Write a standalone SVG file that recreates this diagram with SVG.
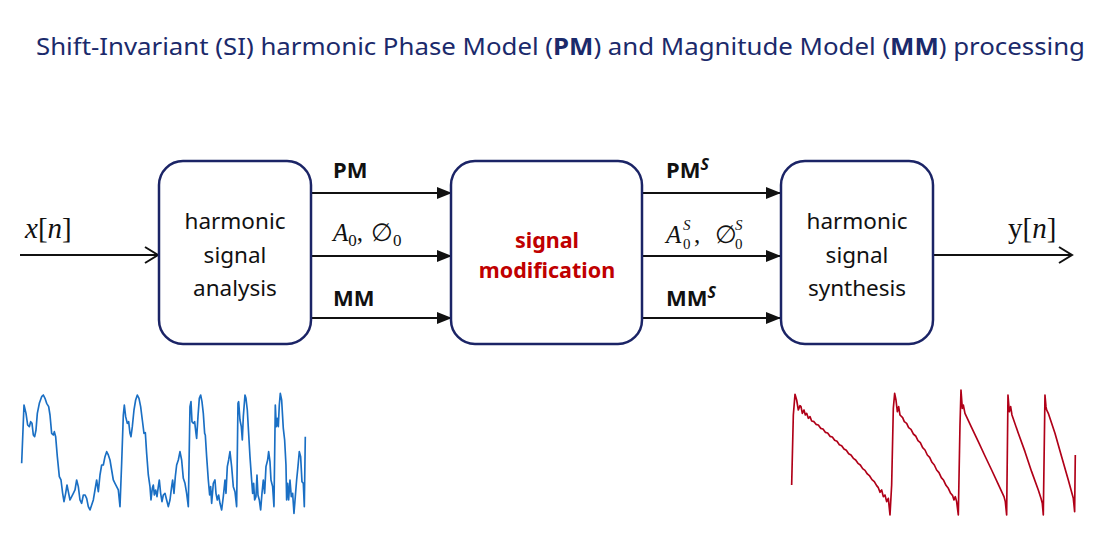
<svg xmlns="http://www.w3.org/2000/svg" width="1100" height="560" viewBox="0 0 1100 560">
<style>
.box{fill:#fff;stroke:#1b2466;stroke-width:2.5}
.bt{font-family:"Noto Sans","Open Sans",sans-serif;font-size:22.5px;fill:#111;text-anchor:middle}
.red{font-family:"Noto Sans","Open Sans",sans-serif;font-size:21.5px;font-weight:bold;fill:#c00000;text-anchor:middle}
.lab{font-family:"Noto Sans","Open Sans",sans-serif;font-size:22px;font-weight:bold;fill:#111}
.math{font-family:"Liberation Serif","DejaVu Serif",serif;fill:#111}
.it{font-style:italic}
.ln{stroke:#111;stroke-width:2;fill:none}
.title{font-family:"Noto Sans","Open Sans",sans-serif;font-size:23px;fill:#1b2a6b}
</style>
<defs>
<marker id="ah" markerWidth="15" markerHeight="12" refX="15" refY="6" orient="auto" markerUnits="userSpaceOnUse">
<path d="M0,0 L15,6 L0,12 Z" fill="#111"/>
</marker>
</defs>
<text class="title" x="36" y="55" textLength="1049" lengthAdjust="spacingAndGlyphs">Shift-Invariant (SI) harmonic Phase Model (<tspan font-weight="bold">PM</tspan>) and Magnitude Model (<tspan font-weight="bold">MM</tspan>) processing</text>

<g id="connectors">
<line class="ln" x1="20" y1="255" x2="158" y2="255"/>
<polyline class="ln" points="145,247 158,255 145,263"/>
<line class="ln" x1="311" y1="193" x2="452" y2="193" marker-end="url(#ah)"/>
<line class="ln" x1="311" y1="256" x2="452" y2="256" marker-end="url(#ah)"/>
<line class="ln" x1="311" y1="318" x2="452" y2="318" marker-end="url(#ah)"/>
<line class="ln" x1="642" y1="193" x2="781" y2="193" marker-end="url(#ah)"/>
<line class="ln" x1="642" y1="256" x2="781" y2="256" marker-end="url(#ah)"/>
<line class="ln" x1="642" y1="318" x2="781" y2="318" marker-end="url(#ah)"/>
<line class="ln" x1="933" y1="255" x2="1072" y2="255"/>
<polyline class="ln" points="1059,247 1072,255 1059,263"/>
</g>

<g id="analysis">
<rect class="box" x="159" y="161" width="152" height="183" rx="24"/>
<text class="bt" x="235" y="229">harmonic</text>
<text class="bt" x="235" y="263">signal</text>
<text class="bt" x="235" y="296">analysis</text>
</g>
<g id="modification">
<rect class="box" x="451" y="161" width="191" height="183" rx="24"/>
<text class="red" x="547" y="248">signal</text>
<text class="red" x="547" y="278">modification</text>
</g>
<g id="synthesis">
<rect class="box" x="781" y="161" width="152" height="183" rx="24"/>
<text class="bt" x="857" y="229">harmonic</text>
<text class="bt" x="857" y="263">signal</text>
<text class="bt" x="857" y="296">synthesis</text>
</g>

<g id="labels">
<text class="lab" x="333" y="178">PM</text>
<text class="lab" x="333" y="306">MM</text>
<text class="math" style="font-size:25px" x="333" y="241"><tspan class="it">A</tspan><tspan style="font-size:17px" dy="5">0</tspan><tspan dy="-5">,</tspan></text>
<text class="math" style="font-size:25px" x="371" y="241">∅<tspan style="font-size:17px" dy="5">0</tspan></text>
<text class="lab" x="666" y="178">PM<tspan style="font-size:16px;font-style:italic" dy="-8">S</tspan></text>
<text class="lab" x="666" y="306">MM<tspan style="font-size:16px;font-style:italic" dy="-8">S</tspan></text>
<text class="math it" style="font-size:25px" x="666" y="243">A</text>
<text class="math it" style="font-size:15px" x="683" y="230">S</text>
<text class="math" style="font-size:15px" x="683" y="249">0</text>
<text class="math" style="font-size:25px" x="694" y="243">,</text>
<text class="math" style="font-size:25px" x="715" y="243">∅</text>
<text class="math it" style="font-size:15px" x="735" y="230">S</text>
<text class="math" style="font-size:15px" x="735" y="249">0</text>
<text class="math" style="font-size:29px" x="25" y="238"><tspan class="it">x</tspan>[<tspan class="it">n</tspan>]</text>
<text class="math" style="font-size:29px" x="1008" y="238">y[<tspan class="it">n</tspan>]</text>
</g>

<g id="input-wave" transform="translate(0,380) scale(0.3333)">
<polyline fill="none" stroke="#1a6fc4" stroke-width="5" stroke-linejoin="round" points="65,250 72,75 78,100 83,135 88,140 92,125 96,130 100,165 104,170 108,150 112,100 118,70 125,50 130,45 135,55 140,70 146,80 150,105 155,160 160,165 163,155 167,170 172,230 178,290 183,300 188,340 192,365 197,340 201,315 205,335 210,360 215,350 220,340 225,330 230,300 235,320 240,360 245,370 250,345 255,345 260,355 265,380 270,390 275,375 280,360 285,330 290,300 295,335 300,285 305,255 310,255 315,230 320,215 325,225 330,240 335,270 340,300 345,310 350,320 355,330 360,380 365,250 370,105 373,75 377,110 382,130 386,125 390,160 393,170 397,140 402,90 407,60 412,45 417,55 422,80 427,120 432,160 436,158 440,220 445,285 450,320 453,360 457,325 460,315 463,345 467,330 471,350 475,320 478,300 482,340 486,365 490,345 495,340 500,360 505,380 510,360 515,320 518,300 522,340 526,290 530,255 535,240 540,215 545,240 550,295 555,310 560,340 565,380 570,80 573,65 576,125 580,130 584,125 588,160 590,175 594,110 598,55 602,45 606,65 610,100 614,160 616,165 620,230 625,300 629,345 632,320 635,370 640,310 645,300 648,340 652,360 656,345 660,370 665,390 670,350 675,300 678,340 682,260 686,240 690,215 695,260 700,320 705,335 710,380 714,70 716,65 720,120 724,140 727,180 730,110 735,45 738,55 742,90 746,160 750,230 755,300 758,340 761,310 764,360 768,350 771,285 774,345 778,360 782,390 786,340 790,300 794,340 798,260 803,240 806,215 810,245 813,300 818,320 822,380 826,75 829,140 832,115 835,140 838,75 841,40 845,60 850,145 854,180 858,255 860,360 863,310 866,360 870,300 874,350 878,340 882,400 886,350 890,300 894,260 898,215 902,230 906,305 910,310 913,380 916,170"/>
</g>

<g id="output-wave" transform="translate(780,375) scale(0.3333)">
<polyline fill="none" stroke="#b00018" stroke-width="5" stroke-linejoin="round" points="35,330 40,120 45,58 50,75 55,105 60,92 63,95 67,115 72,105 76,120 80,115 85,130 90,125 95,138 102,140 108,148 115,150 122,160 129,162 136,172 143,174 150,184 157,186 164,196 171,199 178,209 185,212 192,222 199,226 206,236 213,240 220,250 227,255 234,265 241,270 248,281 255,286 262,297 269,303 276,314 283,320 290,332 295,338 300,352 305,345 310,365 315,360 320,380 325,370 330,420 335,330 340,100 344,55 348,75 352,110 356,95 360,120 368,128 373,140 380,145 386,158 393,163 400,177 407,183 414,197 421,203 428,218 435,225 442,240 449,247 456,262 463,270 470,285 477,293 484,308 491,316 498,331 505,340 512,355 518,362 522,375 526,365 530,380 535,420 540,150 543,45 547,100 550,90 555,115 575,158 595,200 615,243 635,285 655,328 672,365 676,380 680,420 684,60 686,85 688,110 692,95 696,120 715,175 735,230 755,290 775,345 783,370 787,385 790,420 795,60 798,95 800,105 805,115 825,175 845,245 865,315 880,370 884,410 886,240"/>
</g>
</svg>
